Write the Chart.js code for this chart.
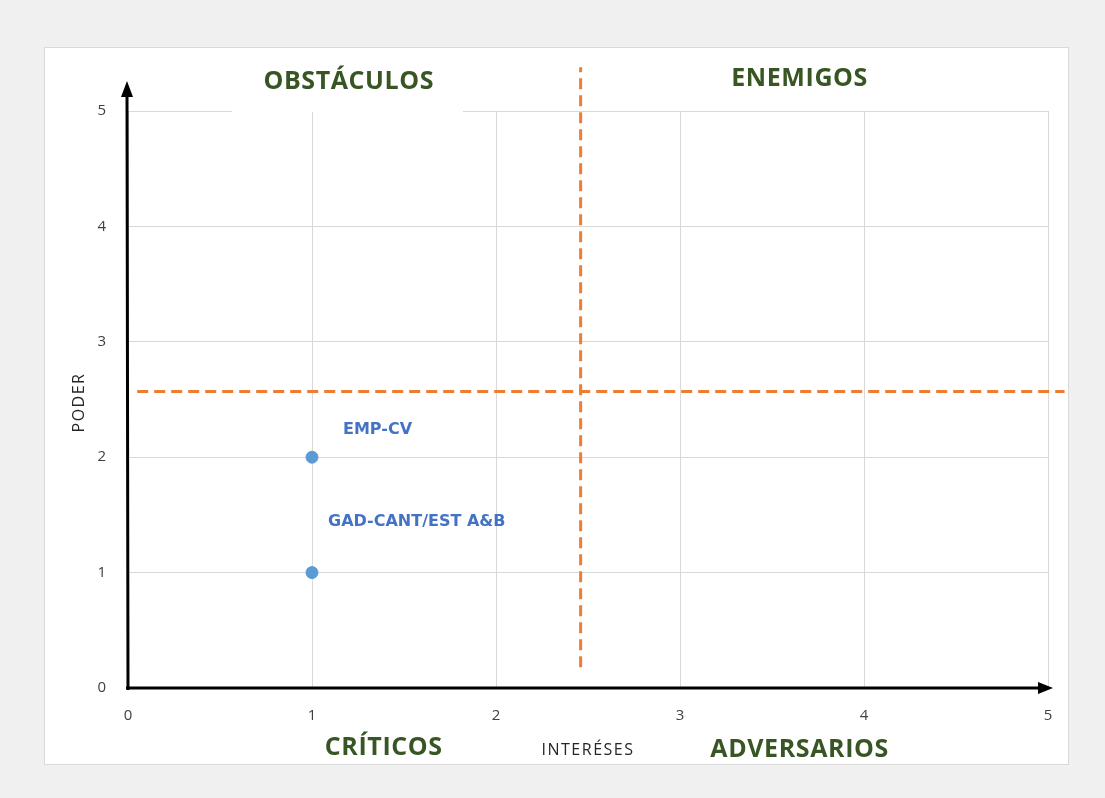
<!DOCTYPE html>
<html>
<head>
<meta charset="utf-8">
<script src="https://cdn.jsdelivr.net/npm/chart.js@4.4.1/dist/chart.umd.min.js"></script>
<style>
    html, body { margin: 0; padding: 0; background: #f0f0f0; }
    .card {
        position: absolute;
        left: 44px; top: 47px;
        width: 1023px; height: 716px;
        background: #ffffff;
        border: 1px solid #d9d9d9;
    }
    #wrap { position: absolute; left: 0; top: 0; width: 1105px; height: 798px; }
</style>
</head>
<body>
<div class="card"></div>
<div id="wrap"><canvas id="matrixChart" width="1105" height="798"></canvas></div>
<script>
// Data
const interes = [1, 1];
const poder = [2, 1];
const actores = ['EMP-CV', 'GAD-CANT/EST A&B'];
const xTicks = [0, 1, 2, 3, 4, 5];
const yTicks = [0, 1, 2, 3, 4, 5];
const corteX = 2.46;      // vertical divider (interés)
const corteY = 2.57;      // horizontal divider (poder)
const corteXSpan = [0.18, 5.38];
const corteYSpan = [0.05, 5.09];
const cuadrantes = ['OBSTÁCULOS', 'ENEMIGOS', 'CRÍTICOS', 'ADVERSARIOS'];
const tituloX = 'INTERÉSES';
const tituloY = 'PODER';

const GREEN = '#375623';
const ORANGE = '#ed7d31';

// Draws arrows, quadrant titles, axis titles and point labels
const matrixPlugin = {
    id: 'matrixPlugin',
    beforeDatasetsDraw(chart) {
        const { ctx, chartArea, scales } = chart;
        const x0 = scales.x.getPixelForValue(0);
        const y0 = scales.y.getPixelForValue(0);

        // white patch behind the top-left title
        ctx.save();
        ctx.fillStyle = '#ffffff';
        ctx.fillRect(x0 + 104, chartArea.top - 55, 231, 56);
        ctx.restore();

        // black axes with arrows
        ctx.save();
        ctx.strokeStyle = '#000';
        ctx.fillStyle = '#000';
        ctx.lineWidth = 3;
        ctx.beginPath();
        ctx.moveTo(x0, y0 + 2);
        ctx.lineTo(x0 - 1, chartArea.top - 18);
        ctx.moveTo(x0 - 2, y0);
        ctx.lineTo(chartArea.right - 6, y0);
        ctx.stroke();

        ctx.beginPath();
        ctx.moveTo(x0 - 1, chartArea.top - 30);
        ctx.lineTo(x0 - 7, chartArea.top - 14);
        ctx.lineTo(x0 + 5, chartArea.top - 14);
        ctx.closePath();
        ctx.fill();

        ctx.beginPath();
        ctx.moveTo(chartArea.right + 5, y0);
        ctx.lineTo(chartArea.right - 10, y0 - 6);
        ctx.lineTo(chartArea.right - 10, y0 + 6);
        ctx.closePath();
        ctx.fill();
        ctx.restore();
    },
    afterDatasetsDraw(chart) {
        const { ctx, chartArea, scales } = chart;
        const sx = scales.x, sy = scales.y;

        // quadrant titles
        const spots = [[1.2, 5.25], [3.65, 5.28], [1.39, -0.52], [3.65, -0.54]];
        ctx.save();
        ctx.fillStyle = GREEN;
        ctx.font = 'bold 25px "Open Sans", sans-serif';
        ctx.letterSpacing = '0.6px';
        ctx.textAlign = 'center';
        ctx.textBaseline = 'middle';
        cuadrantes.forEach((label, i) => {
            ctx.fillText(label, sx.getPixelForValue(spots[i][0]), sy.getPixelForValue(spots[i][1]));
        });
        ctx.restore();

        // axis titles
        ctx.save();
        ctx.fillStyle = '#262626';
        ctx.font = '16px "Open Sans", sans-serif';
        ctx.letterSpacing = '1.5px';
        ctx.textAlign = 'center';
        ctx.textBaseline = 'middle';
        ctx.fillText(tituloX, (chartArea.left + chartArea.right) / 2, sy.getPixelForValue(0) + 62);
        ctx.translate(sx.getPixelForValue(0) - 49, (chartArea.top + chartArea.bottom) / 2 + 3);
        ctx.rotate(-Math.PI / 2);
        ctx.fillText(tituloY, 0, 0);
        ctx.restore();

        // point labels
        const offsets = [[31, -27], [16, -51]];
        ctx.save();
        ctx.fillStyle = '#4472c4';
        ctx.font = 'bold 16px "DejaVu Sans", sans-serif';
        ctx.textAlign = 'left';
        ctx.textBaseline = 'middle';
        actores.forEach((label, i) => {
            const px = sx.getPixelForValue(interes[i]);
            const py = sy.getPixelForValue(poder[i]);
            ctx.fillText(label, px + offsets[i][0], py + offsets[i][1]);
        });
        ctx.restore();
    }
};

const ctx = document.getElementById('matrixChart').getContext('2d');

new Chart(ctx, {
    type: 'scatter',
    data: {
        datasets: [
            {
                label: 'Actores',
                data: interes.map((v, i) => ({ x: v, y: poder[i] })),
                backgroundColor: '#5b9bd5',
                borderColor: '#5b9bd5',
                pointRadius: 6,
                pointHoverRadius: 6,
                order: 0
            },
            {
                label: 'Corte poder',
                data: corteYSpan.map(v => ({ x: v, y: corteY })),
                showLine: true,
                borderColor: ORANGE,
                borderWidth: 3,
                borderDash: [11, 6],
                pointRadius: 0,
                clip: false,
                order: 1
            },
            {
                label: 'Corte interés',
                data: corteXSpan.map(v => ({ x: corteX, y: v })),
                showLine: true,
                borderColor: ORANGE,
                borderWidth: 3,
                borderDash: [11, 6],
                pointRadius: 0,
                clip: false,
                order: 1
            }
        ]
    },
    options: {
        responsive: false,
        animation: false,
        layout: {
            padding: { left: 68, right: 57, top: 111, bottom: 36 }
        },
        plugins: {
            legend: { display: false },
            tooltip: { enabled: false }
        },
        scales: {
            x: {
                type: 'linear',
                min: 0,
                max: 5,
                afterBuildTicks: (scale) => { scale.ticks = xTicks.map(v => ({ value: v })); },
                afterFit: (scale) => { scale.height = 74; },
                border: { display: false },
                grid: { color: '#d9d9d9', lineWidth: 1, drawTicks: false },
                ticks: {
                    padding: 19,
                    color: '#404040',
                    font: { family: '"Open Sans", sans-serif', size: 15 }
                }
            },
            y: {
                type: 'linear',
                min: 0,
                max: 5,
                afterBuildTicks: (scale) => { scale.ticks = yTicks.map(v => ({ value: v })); },
                afterFit: (scale) => { scale.width = 60; },
                border: { display: false },
                grid: { color: '#d9d9d9', lineWidth: 1, drawTicks: false },
                ticks: {
                    padding: 22,
                    color: '#404040',
                    font: { family: '"Open Sans", sans-serif', size: 15 }
                }
            }
        }
    },
    plugins: [matrixPlugin]
});
</script>
</body>
</html>
